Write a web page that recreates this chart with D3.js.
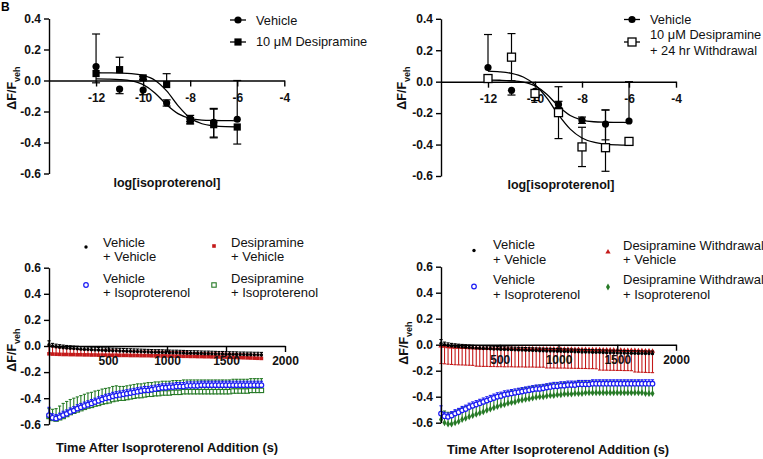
<!DOCTYPE html>
<html><head><meta charset="utf-8">
<script src="https://cdn.jsdelivr.net/npm/d3@7"></script>
<style>body{margin:0;background:#fff}svg{display:block;font-family:"Liberation Sans",Arial,sans-serif}</style>
</head><body><svg id="c" width="763" height="459"></svg>
<script>
// ---------- Top panels: concentration-response ----------
const doseLog = [-12,-11,-10,-9,-8,-7,-6];
const vehMean     = [0.09,-0.055,-0.062,-0.145,-0.245,-0.27,-0.25];
const vehErrUp    = [0.21,0.0,0.0,0.02,0.02,0.09,0.25];
const vehErrDown  = [0.0,0.03,0.03,0.02,0.02,0.10,0.0];
const desiMean    = [0.045,0.07,0.017,-0.026,-0.26,-0.285,-0.30];
const desiErrUp   = [0.0,0.08,0.01,0.07,0.02,0.10,0.0];
const desiErrDown = [0.06,0.0,0.01,0.0,0.02,0.08,0.11];
const wdMean      = [0.02,0.156,-0.075,-0.197,-0.415,-0.42,-0.38];
const wdErrUp     = [0.0,0.15,0.0,0.165,0.125,0.24,0.02];
const wdErrDown   = [0.0,0.15,0.045,0.165,0.125,0.15,0.02];
// fitted curves
const fitX     = [-12,-11.5,-11,-10.5,-10,-9.5,-9,-8.5,-8,-7.5,-7,-6.5,-6];
const fitVeh   = [0.010,0.009,0.006,-0.003,-0.027,-0.080,-0.156,-0.215,-0.244,-0.255,-0.258,-0.259,-0.260];
const fitDesi  = [0.050,0.049,0.048,0.045,0.033,0.002,-0.067,-0.165,-0.242,-0.279,-0.293,-0.298,-0.299];
const fitWd    = [0.067,0.063,0.053,0.030,-0.019,-0.103,-0.211,-0.302,-0.358,-0.385,-0.397,-0.402,-0.404];
const xTicksTop = [-12,-10,-8,-6,-4];
const yTicksTop = [-0.6,-0.4,-0.2,0.0,0.2,0.4];

// ---------- Bottom panels: time course ----------
const times = [0,30,60,90,120,150,180,210,240,270,300,330,360,390,420,450,480,510,540,570,600,630,660,690,720,750,780,810,840,870,900,930,960,990,1020,1050,1080,1110,1140,1170,1200,1230,1260,1290,1320,1350,1380,1410,1440,1470,1500,1530,1560,1590,1620,1650,1680,1710,1740,1770,1800];
const vehVeh = [0.01,0.0,-0.006,-0.01,-0.013,-0.016,-0.018,-0.02,-0.022,-0.024,
 -0.026,-0.027,-0.029,-0.03,-0.031,-0.033,-0.034,-0.035,-0.036,-0.037,
 -0.038,-0.039,-0.04,-0.041,-0.042,-0.043,-0.044,-0.045,-0.046,-0.047,
 -0.048,-0.048,-0.049,-0.05,-0.051,-0.052,-0.052,-0.053,-0.054,-0.055,
 -0.056,-0.056,-0.057,-0.058,-0.059,-0.059,-0.06,-0.061,-0.062,-0.062,
 -0.063,-0.064,-0.064,-0.065,-0.066,-0.066,-0.067,-0.067,-0.068,-0.068,-0.069];
const vehVehErr = [0.03,0.02,0.02,0.02,0.02,0.02,0.02,0.02,0.02,0.02,
 0.02,0.02,0.02,0.02,0.02,0.02,0.02,0.02,0.02,0.02,
 0.02,0.02,0.02,0.02,0.02,0.02,0.02,0.02,0.02,0.02,
 0.02,0.02,0.02,0.02,0.02,0.02,0.02,0.02,0.02,0.02,
 0.02,0.02,0.02,0.02,0.02,0.02,0.02,0.02,0.02,0.02,
 0.02,0.02,0.02,0.02,0.02,0.02,0.02,0.02,0.02,0.02,0.02];
const vehIso = [-0.53,-0.55,-0.555,-0.545,-0.53,-0.52,-0.505,-0.495,-0.48,-0.47,
 -0.46,-0.45,-0.44,-0.43,-0.42,-0.41,-0.40,-0.395,-0.385,-0.38,
 -0.375,-0.37,-0.365,-0.36,-0.355,-0.35,-0.345,-0.34,-0.34,-0.335,
 -0.33,-0.325,-0.32,-0.32,-0.315,-0.315,-0.31,-0.31,-0.31,-0.305,
 -0.305,-0.305,-0.305,-0.30,-0.30,-0.30,-0.30,-0.30,-0.30,-0.30,
 -0.30,-0.30,-0.30,-0.30,-0.30,-0.30,-0.30,-0.30,-0.30,-0.30,-0.30];
const vehIsoErr = [0.06,0.03,0.03,0.03,0.03,0.03,0.03,0.03,0.03,0.03,
 0.03,0.03,0.03,0.03,0.03,0.03,0.03,0.03,0.03,0.03,
 0.03,0.03,0.03,0.03,0.03,0.03,0.03,0.03,0.03,0.03,
 0.03,0.03,0.03,0.03,0.03,0.03,0.03,0.03,0.03,0.03,
 0.03,0.03,0.03,0.03,0.03,0.03,0.03,0.03,0.03,0.03,
 0.03,0.03,0.03,0.03,0.03,0.03,0.03,0.03,0.03,0.03,0.03];
const desVeh = [-0.06,-0.062,-0.063,-0.064,-0.065,-0.065,-0.066,-0.066,-0.067,-0.067,
 -0.068,-0.068,-0.069,-0.069,-0.07,-0.07,-0.07,-0.071,-0.071,-0.071,
 -0.072,-0.072,-0.072,-0.073,-0.073,-0.073,-0.074,-0.074,-0.074,-0.075,
 -0.075,-0.075,-0.076,-0.076,-0.077,-0.077,-0.078,-0.078,-0.079,-0.079,
 -0.08,-0.08,-0.081,-0.081,-0.082,-0.082,-0.083,-0.083,-0.084,-0.084,
 -0.085,-0.086,-0.087,-0.088,-0.089,-0.09,-0.091,-0.092,-0.093,-0.094,-0.095];
const desVehErr = [0.06,0.055,0.05,0.05,0.05,0.045,0.045,0.045,0.04,0.04,
 0.04,0.04,0.04,0.04,0.04,0.04,0.04,0.04,0.04,0.04,
 0.035,0.035,0.035,0.035,0.035,0.035,0.035,0.035,0.035,0.035,
 0.035,0.035,0.035,0.035,0.035,0.035,0.035,0.035,0.035,0.035,
 0.03,0.03,0.03,0.03,0.03,0.03,0.03,0.03,0.03,0.03,
 0.03,0.03,0.03,0.03,0.03,0.03,0.03,0.03,0.03,0.03,0.03];
const desIso = [-0.54,-0.555,-0.56,-0.55,-0.54,-0.525,-0.51,-0.50,-0.49,-0.48,
 -0.47,-0.46,-0.455,-0.445,-0.44,-0.43,-0.425,-0.42,-0.41,-0.405,
 -0.40,-0.40,-0.395,-0.39,-0.385,-0.38,-0.38,-0.375,-0.37,-0.37,
 -0.365,-0.365,-0.36,-0.36,-0.36,-0.355,-0.355,-0.355,-0.35,-0.35,
 -0.35,-0.35,-0.35,-0.35,-0.35,-0.35,-0.35,-0.35,-0.35,-0.35,
 -0.35,-0.35,-0.345,-0.345,-0.345,-0.345,-0.345,-0.34,-0.34,-0.34,-0.34];
const desIsoErr = [0.06,0.07,0.08,0.09,0.1,0.1,0.1,0.1,0.1,0.1,
 0.1,0.1,0.1,0.1,0.1,0.1,0.1,0.1,0.1,0.1,
 0.09,0.09,0.09,0.09,0.09,0.09,0.09,0.09,0.09,0.09,
 0.09,0.09,0.09,0.09,0.09,0.09,0.09,0.09,0.09,0.09,
 0.09,0.09,0.09,0.09,0.09,0.09,0.09,0.09,0.09,0.09,
 0.09,0.09,0.09,0.09,0.09,0.09,0.09,0.09,0.09,0.09,0.09];
const wdVeh = [-0.01,-0.012,-0.015,-0.017,-0.019,-0.02,-0.021,-0.022,-0.023,-0.024,
 -0.025,-0.026,-0.027,-0.027,-0.028,-0.028,-0.029,-0.029,-0.03,-0.03,
 -0.03,-0.031,-0.031,-0.031,-0.032,-0.032,-0.032,-0.033,-0.033,-0.033,
 -0.034,-0.034,-0.034,-0.035,-0.035,-0.035,-0.036,-0.036,-0.037,-0.037,
 -0.038,-0.038,-0.039,-0.039,-0.04,-0.04,-0.041,-0.041,-0.042,-0.042,
 -0.043,-0.043,-0.044,-0.044,-0.045,-0.045,-0.046,-0.047,-0.048,-0.049,-0.05];
const wdVehErr = [0.135,0.135,0.135,0.135,0.135,0.135,0.135,0.135,0.135,0.135,
 0.14,0.14,0.14,0.14,0.14,0.14,0.14,0.14,0.14,0.14,
 0.14,0.14,0.14,0.14,0.14,0.14,0.14,0.14,0.14,0.14,
 0.145,0.145,0.145,0.145,0.145,0.145,0.145,0.145,0.145,0.145,
 0.145,0.145,0.145,0.145,0.145,0.155,0.155,0.155,0.155,0.155,
 0.155,0.155,0.155,0.155,0.155,0.165,0.165,0.165,0.165,0.165,0.165];
const wdIso = [-0.575,-0.60,-0.61,-0.61,-0.60,-0.59,-0.575,-0.565,-0.555,-0.545,
 -0.535,-0.525,-0.515,-0.505,-0.495,-0.485,-0.475,-0.465,-0.46,-0.45,
 -0.445,-0.44,-0.43,-0.425,-0.42,-0.415,-0.41,-0.405,-0.40,-0.40,
 -0.395,-0.39,-0.39,-0.385,-0.385,-0.38,-0.38,-0.38,-0.375,-0.375,
 -0.375,-0.37,-0.37,-0.37,-0.37,-0.37,-0.37,-0.37,-0.37,-0.37,
 -0.37,-0.37,-0.37,-0.37,-0.37,-0.37,-0.37,-0.37,-0.375,-0.375,-0.375];
const wdIsoErr = [0.06,0.09,0.09,0.09,0.09,0.09,0.09,0.09,0.09,0.09,
 0.09,0.09,0.09,0.09,0.09,0.09,0.09,0.09,0.09,0.09,
 0.09,0.09,0.09,0.09,0.09,0.09,0.09,0.09,0.09,0.09,
 0.09,0.09,0.09,0.09,0.09,0.09,0.09,0.09,0.09,0.09,
 0.09,0.09,0.09,0.09,0.09,0.09,0.09,0.09,0.09,0.09,
 0.09,0.09,0.09,0.09,0.09,0.09,0.09,0.09,0.09,0.09,0.09];
const xTicksBot = [500,1000,1500,2000];
const yTicksBot = [-0.6,-0.4,-0.2,0.0,0.2,0.4,0.6];

const BLUE = "#1c1cf5", RED = "#c41a1a", GREEN = "#267a26";
const svg = d3.select("#c");

// panel letter
svg.append("text").attr("x",1).attr("y",11).attr("font-size",12).attr("font-weight","bold").attr("fill","#000").text("B");

function styleAxis(ax, fs) {
  ax.select(".domain").attr("stroke","#000").attr("stroke-width",1.4);
  ax.selectAll(".tick line").attr("stroke","#000").attr("stroke-width",1.4);
  ax.selectAll(".tick text").attr("fill","#111").attr("font-size",fs).attr("font-weight","bold")
    .attr("font-family",'"Liberation Sans",Arial,sans-serif');
}
function yLabel(g, x, y) {
  const t = g.append("text").attr("transform",`translate(${x},${y}) rotate(-90)`)
    .attr("text-anchor","middle").attr("font-size",12.5).attr("font-weight","bold").attr("fill","#111");
  t.append("tspan").text("\u0394F/F");
  t.append("tspan").attr("font-size",9).attr("dy",3.5).text("veh");
}
function axes(g, x, y, xTicks, yTicks, xfmt, xpad) {
  const ya = g.append("g").attr("transform",`translate(${x.range()[0]},0)`)
    .call(d3.axisLeft(y).tickValues(yTicks).tickSize(5).tickSizeOuter(0).tickPadding(3).tickFormat(d=>d.toFixed(1)));
  styleAxis(ya, 12);
  const xa = g.append("g").attr("transform",`translate(0,${y(0)})`)
    .call(d3.axisBottom(x).tickValues(xTicks).tickSize(6).tickSizeOuter(0).tickPadding(xpad).tickFormat(xfmt));
  styleAxis(xa, 12);
}

// ----- top panel helper -----
function topPanel(xr, yr, series, legend, ylab, xlab) {
  const g = svg.append("g");
  const x = d3.scaleLinear().domain([-14,-4]).range(xr);
  const y = d3.scaleLinear().domain([-0.6,0.4]).range(yr);
  axes(g, x, y, xTicksTop, yTicksTop, d=>String(d), 7);
  yLabel(g, ylab[0], ylab[1]);
  g.append("text").attr("x",xlab[0]).attr("y",xlab[1]).attr("text-anchor","middle")
    .attr("font-size",12.5).attr("font-weight","bold").attr("fill","#111").text("log[isoproterenol]");
  const line = d3.line().x(d=>x(d[0])).y(d=>y(d[1])).curve(d3.curveMonotoneX);
  series.forEach(s=>{
    g.append("path").datum(fitX.map((v,i)=>[v,s.fit[i]])).attr("d",line)
      .attr("fill","none").attr("stroke","#000").attr("stroke-width",1.3);
  });
  series.forEach(s=>{
    const pts = doseLog.map((v,i)=>({x:v, m:s.mean[i], u:s.up[i], d:s.down[i]}));
    const eg = g.append("g").attr("stroke","#000").attr("stroke-width",1.2);
    pts.forEach(p=>{
      const cx = x(p.x);
      if (p.u>0) {
        eg.append("line").attr("x1",cx).attr("x2",cx).attr("y1",y(p.m)).attr("y2",y(p.m+p.u));
        eg.append("line").attr("x1",cx-4).attr("x2",cx+4).attr("y1",y(p.m+p.u)).attr("y2",y(p.m+p.u));
      }
      if (p.d>0) {
        eg.append("line").attr("x1",cx).attr("x2",cx).attr("y1",y(p.m)).attr("y2",y(p.m-p.d));
        eg.append("line").attr("x1",cx-4).attr("x2",cx+4).attr("y1",y(p.m-p.d)).attr("y2",y(p.m-p.d));
      }
    });
  });
  series.forEach(s=>{
    const pts = doseLog.map((v,i)=>({x:v, m:s.mean[i]}));
    drawMark(g, s.mark, pts.map(p=>[x(p.x), y(p.m)]));
  });
  legend.forEach(l=>{
    g.append("line").attr("x1",l.mx-8).attr("x2",l.mx+8).attr("y1",l.my).attr("y2",l.my)
      .attr("stroke","#000").attr("stroke-width",1.3);
    drawMark(g, l.mark, [[l.mx,l.my]]);
    l.lines.forEach((t,i)=>g.append("text").attr("x",l.tx).attr("y",l.ty+i*16)
      .attr("font-size",12.8).attr("fill","#111").text(t));
  });
}
function drawMark(g, type, pts) {
  const sel = g.append("g").selectAll("*").data(pts);
  if (type==="circle") sel.join("circle").attr("cx",d=>d[0]).attr("cy",d=>d[1]).attr("r",3.6).attr("fill","#000");
  else if (type==="square") sel.join("rect").attr("x",d=>d[0]-3.6).attr("y",d=>d[1]-3.6).attr("width",7.2).attr("height",7.2).attr("fill","#000");
  else if (type==="osquare") sel.join("rect").attr("x",d=>d[0]-4).attr("y",d=>d[1]-4).attr("width",8).attr("height",8).attr("fill","#fff").attr("stroke","#000").attr("stroke-width",1.3);
}

topPanel([49,284.3],[173.5,18.5],
  [{fit:fitVeh, mean:vehMean, up:vehErrUp, down:vehErrDown, mark:"circle"},
   {fit:fitDesi, mean:desiMean, up:desiErrUp, down:desiErrDown, mark:"square"}],
  [{mark:"circle", mx:238, my:20, tx:256, ty:24.5, lines:["Vehicle"]},
   {mark:"square", mx:238, my:42, tx:256, ty:46, lines:["10 \u03bcM Desipramine"]}],
  [16,88],[167,187]);
topPanel([441,676],[176,18.8],
  [{fit:fitVeh, mean:vehMean, up:vehErrUp, down:vehErrDown, mark:"circle"},
   {fit:fitWd, mean:wdMean, up:wdErrUp, down:wdErrDown, mark:"osquare"}],
  [{mark:"circle", mx:632, my:19.5, tx:650, ty:24, lines:["Vehicle"]},
   {mark:"osquare", mx:632, my:42, tx:650, ty:38.5, lines:["10 \u03bcM Desipramine","+ 24 hr Withdrawal"]}],
  [406,88],[561,189]);

// ----- bottom panel helper -----
function tsMark(g, type, color, pts) {
  const sel = g.append("g").selectAll("*").data(pts);
  if (type==="dot") sel.join("circle").attr("cx",d=>d[0]).attr("cy",d=>d[1]).attr("r",1.7).attr("fill",color);
  else if (type==="ocircle") sel.join("circle").attr("cx",d=>d[0]).attr("cy",d=>d[1]).attr("r",2.3).attr("fill","#fff").attr("stroke",color).attr("stroke-width",1.2);
  else if (type==="square") sel.join("rect").attr("x",d=>d[0]-1.8).attr("y",d=>d[1]-1.8).attr("width",3.6).attr("height",3.6).attr("fill",color);
  else if (type==="osquare") sel.join("rect").attr("x",d=>d[0]-2.2).attr("y",d=>d[1]-2.2).attr("width",4.4).attr("height",4.4).attr("fill","#fff").attr("stroke",color).attr("stroke-width",1.1);
  else if (type==="triangle") sel.join("path").attr("d",d3.symbol(d3.symbolTriangle,12)).attr("transform",d=>`translate(${d[0]},${d[1]})`).attr("fill",color);
  else if (type==="diamond") sel.join("path").attr("d",d3.symbol(d3.symbolDiamond,14)).attr("transform",d=>`translate(${d[0]},${d[1]})`).attr("fill",color);
}
function bottomPanel(xr, yr, series, legend, ylab, xlab) {
  const g = svg.append("g");
  const x = d3.scaleLinear().domain([0,2000]).range(xr);
  const y = d3.scaleLinear().domain([-0.6,0.6]).range(yr);
  series.forEach(s=>{
    const eg = g.append("g").attr("stroke",s.color).attr("stroke-width",1.1);
    times.forEach((t,i)=>{
      const cx = x(t), m = s.mean[i], e = s.err[i]*s.dir;
      eg.append("line").attr("x1",cx).attr("x2",cx).attr("y1",y(m)).attr("y2",y(m+e));
      eg.append("line").attr("x1",cx-1.6).attr("x2",cx+1.6).attr("y1",y(m+e)).attr("y2",y(m+e));
    });
    tsMark(g, s.mark, s.color, times.map((t,i)=>[x(t), y(s.mean[i])]));
  });
  axes(g, x, y, xTicksBot, yTicksBot, d=>String(d), 4.5);
  yLabel(g, ylab[0], ylab[1]);
  g.append("text").attr("x",xlab[0]).attr("y",xlab[1]).attr("text-anchor","middle")
    .attr("font-size",12.8).attr("font-weight","bold").attr("fill","#111").text("Time After Isoproterenol Addition (s)");
  legend.forEach(l=>{
    tsMark(g, l.mark, l.color, [[l.mx,l.my]]);
    l.lines.forEach((t,i)=>g.append("text").attr("x",l.tx).attr("y",l.ty+i*14.5)
      .attr("font-size",13).attr("fill","#111").text(t));
  });
}

bottomPanel([49,285],[424.3,267.7],
  [{mean:desIso, err:desIsoErr, dir:1, color:GREEN, mark:"osquare"},
   {mean:vehIso, err:vehIsoErr, dir:1, color:BLUE, mark:"ocircle"},
   {mean:desVeh, err:desVehErr, dir:1, color:RED, mark:"square"},
   {mean:vehVeh, err:vehVehErr, dir:1, color:"#000", mark:"dot"}],
  [{mark:"dot", color:"#000", mx:86, my:247, tx:103, ty:246.5, lines:["Vehicle","+ Vehicle"]},
   {mark:"square", color:RED, mx:214, my:246, tx:231, ty:246.5, lines:["Desipramine","+ Vehicle"]},
   {mark:"ocircle", color:BLUE, mx:86, my:285, tx:103, ty:282.5, lines:["Vehicle","+ Isoproterenol"]},
   {mark:"osquare", color:GREEN, mx:214, my:285, tx:231, ty:282.5, lines:["Desipramine","+ Isoproterenol"]}],
  [16,350],[167,452]);
bottomPanel([441,676],[422.7,266.7],
  [{mean:wdVeh, err:wdVehErr, dir:-1, color:RED, mark:"triangle"},
   {mean:wdIso, err:wdIsoErr, dir:1, color:GREEN, mark:"diamond"},
   {mean:vehIso, err:vehIsoErr, dir:1, color:BLUE, mark:"ocircle"},
   {mean:vehVeh, err:vehVehErr, dir:1, color:"#000", mark:"dot"}],
  [{mark:"dot", color:"#000", mx:474, my:250.5, tx:493, ty:249, lines:["Vehicle","+ Vehicle"]},
   {mark:"triangle", color:RED, mx:608, my:252, tx:623, ty:249.5, lines:["Desipramine Withdrawal","+ Vehicle"]},
   {mark:"ocircle", color:BLUE, mx:474, my:286.5, tx:493, ty:284, lines:["Vehicle","+ Isoproterenol"]},
   {mark:"diamond", color:GREEN, mx:608, my:287, tx:623, ty:284, lines:["Desipramine Withdrawal","+ Isoproterenol"]}],
  [408,343],[558,454]);
</script></body></html>
